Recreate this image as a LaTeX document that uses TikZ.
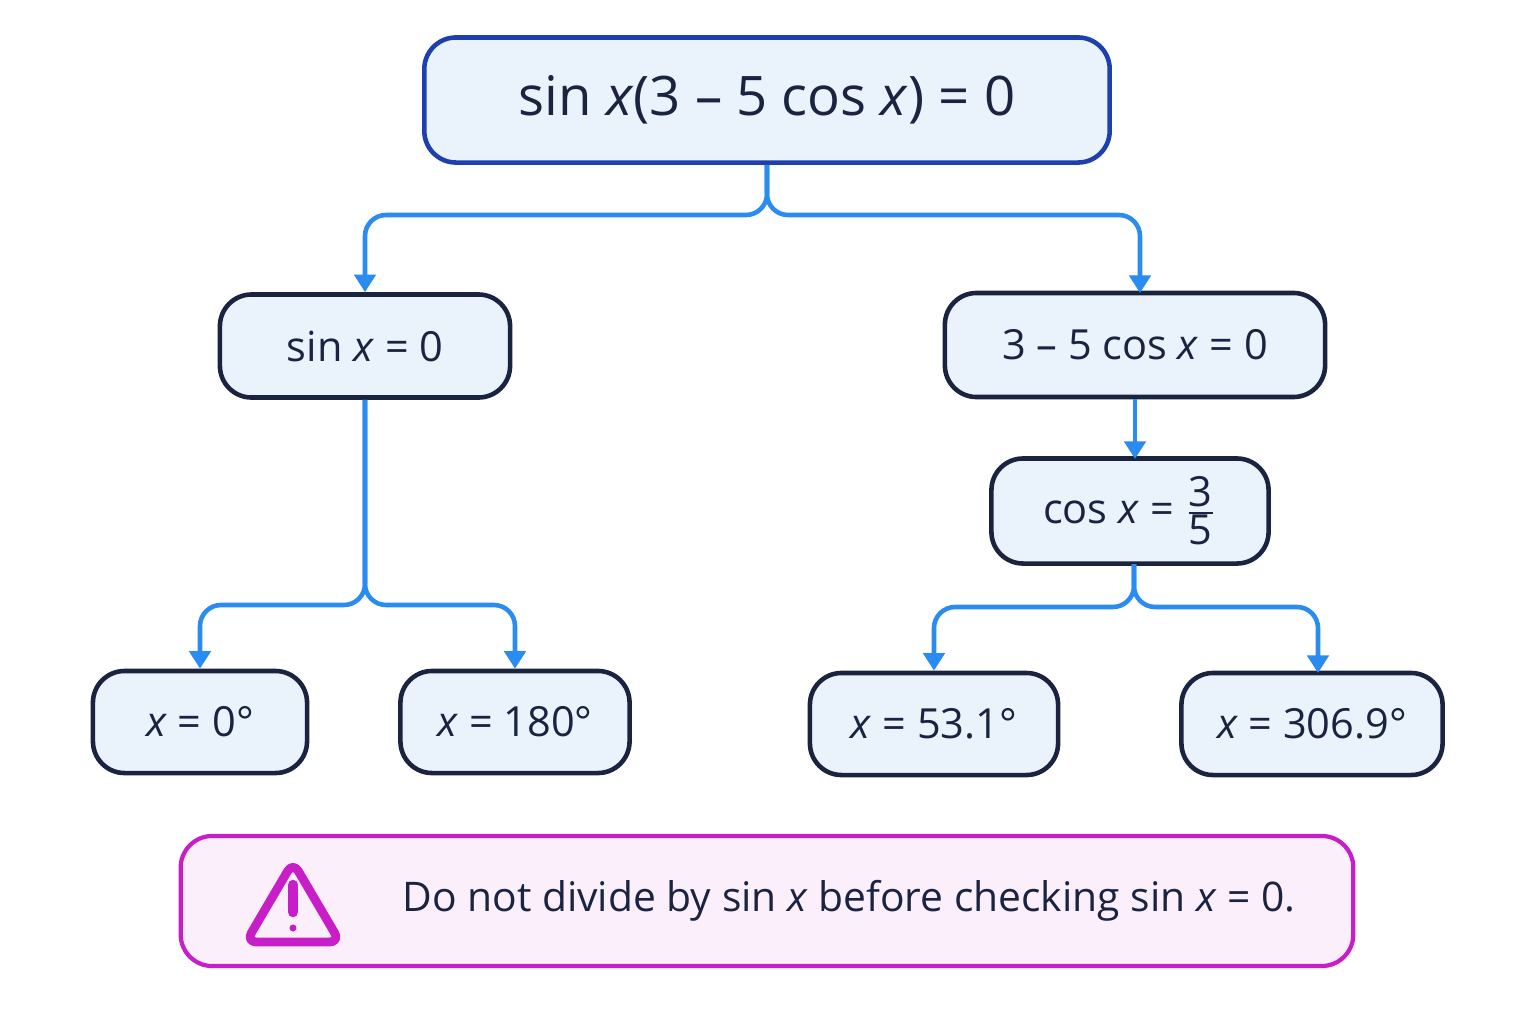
\documentclass[tikz,border=0pt]{standalone}
\usepackage{fontspec}
\setmainfont{Open Sans}
\usepackage{tikz}
\usetikzlibrary{arrows.meta}
\definecolor{navy}{HTML}{1A2340}
\definecolor{boxfill}{HTML}{EAF2FC}
\definecolor{topblue}{HTML}{1E40AF}
\definecolor{linkblue}{HTML}{2A8CF0}
\definecolor{warnmag}{HTML}{C81EC8}
\definecolor{warnfill}{HTML}{FCEFFC}
\newcommand{\vx}{\textit{x}}
\begin{document}
\begin{tikzpicture}[x=0.01cm,y=-0.01cm,
  box/.style={draw=navy, line width=1.3pt, fill=boxfill, rounded corners=9pt,
    inner sep=0pt, text=navy, font=\fontsize{11.8}{14}\selectfont},
  link/.style={draw=linkblue, line width=1.3pt, rounded corners=6pt,
    -{Triangle[length=5pt,width=6pt]}}]

\useasboundingbox (0,0) rectangle (1536,1024);

% main equation
\node[box, draw=topblue, minimum width=6.85cm, minimum height=1.25cm,
  font=\fontsize{15.5}{18}\selectfont] (eq) at (767,100)
  {sin \vx(3 -- 5 cos \vx) = 0};

% two factors
\node[box, minimum width=2.9cm, minimum height=1.03cm] (fa) at (365,346) {sin \vx{} = 0};
\node[box, minimum width=3.8cm, minimum height=1.04cm] (fb) at (1135,345) {3 -- 5 cos \vx{} = 0};
\node[box, minimum width=2.77cm, minimum height=1.05cm] (cs) at (1130,511)
  {cos \vx{} = $\frac{\mbox{3}}{\mbox{5}}$};

% solutions
\node[box, minimum width=2.14cm, minimum height=1.02cm] (s1) at (200,722) {\vx{} = 0°};
\node[box, minimum width=2.29cm, minimum height=1.02cm] (s2) at (515,722) {\vx{} = 180°};
\node[box, minimum width=2.48cm, minimum height=1.02cm] (s3) at (934,724) {\vx{} = 53.1°};
\node[box, minimum width=2.61cm, minimum height=1.02cm] (s4) at (1312,724) {\vx{} = 306.9°};

% branch points
\coordinate (rb) at (1140,293);
\coordinate (ct) at (1135,459);
\coordinate (cb) at (1134,564);
\coordinate (r4) at (1318,673);

% branches
\draw[link] (eq.south) -- (767,215) -| (fa.north);
\draw[link] (eq.south) -- (767,215) -| (rb);
\draw[link] (fb.south -| ct) -- (ct);
\draw[link] (fa.south) -- (365,605) -| (s1.north);
\draw[link] (fa.south) -- (365,605) -| (s2.north);
\draw[link] (cb) -- (1134,607) -| (s3.north);
\draw[link] (cb) -- (1134,607) -| (r4);

% warning
\node[box, draw=warnmag, fill=warnfill, minimum width=11.72cm, minimum height=1.3cm,
  line width=1.2pt] (warn) at (767,901) {};
\node[anchor=west, font=\fontsize{11.6}{14}\selectfont, text=navy] (wt) at (390,901)
  {Do not divide by sin \vx{} before checking sin \vx{} = 0.};
\draw[warnmag, line width=2.5pt, line join=round, rounded corners=3pt]
  (293,862) -- (340,942) -- (246,942) -- cycle;
\draw[warnmag, line width=3pt, line cap=round] (293,885) -- (293,912);
\fill[warnmag] (293,928) circle (3.5);
\end{tikzpicture}
\end{document}
